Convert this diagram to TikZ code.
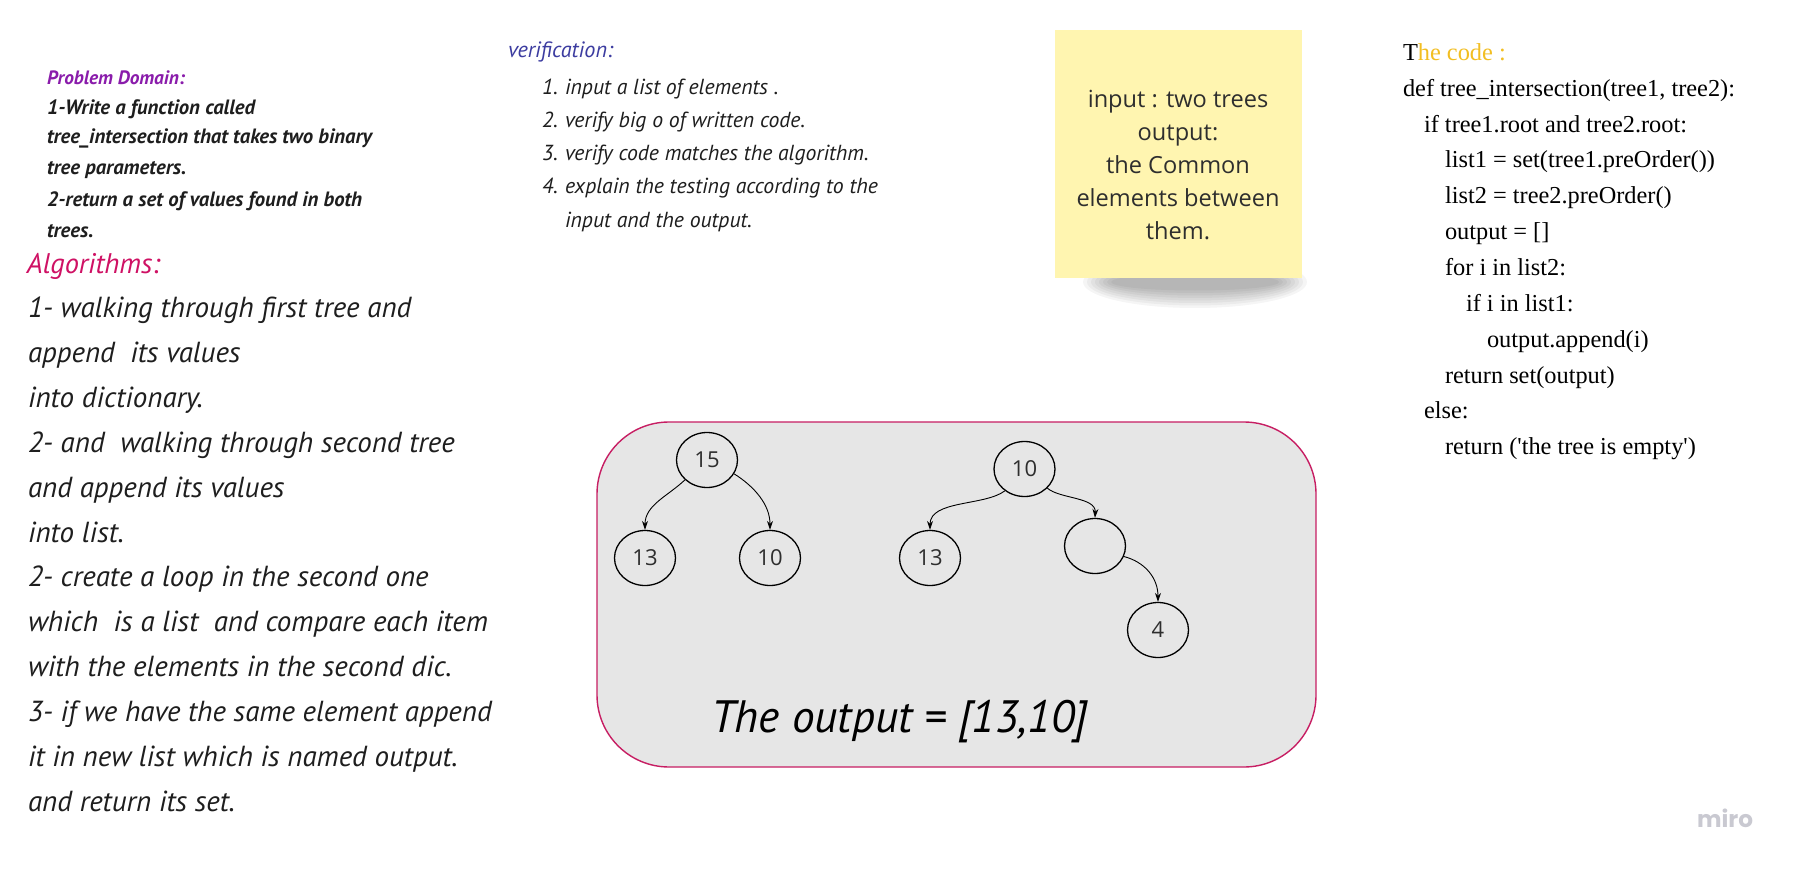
\documentclass[tikz,border=0pt]{standalone}
\usepackage{fontspec}
\usetikzlibrary{shapes.geometric,arrows.meta}
\newfontfamily\handf{PT Sans}
\newfontfamily\notef{Open Sans}
\newfontfamily\codef{Liberation Serif}
\newfontfamily\logof{Poppins}
\definecolor{pdpurple}{HTML}{8A1CAB}
\definecolor{algred}{HTML}{CF1164}
\definecolor{verblue}{HTML}{3C3CA0}
\definecolor{inkc}{HTML}{1E1E1E}
\definecolor{goldc}{HTML}{F2BE22}
\definecolor{boxfill}{HTML}{E6E6E6}
\definecolor{boxline}{HTML}{C71E63}
\definecolor{notey}{HTML}{FFF5B0}
\definecolor{notetxt}{HTML}{2E2E2E}
\definecolor{logoc}{HTML}{C9C9D1}
\newlength\mylen
\newcommand\fitfont[4]{\settowidth{\mylen}{#2\fontsize{10pt}{12pt}\selectfont #4}\pgfmathparse{10*#3/\mylen}\xdef#1{\pgfmathresult}}
\AtBeginDocument{%
\fitfont{\szPH}{\handf\bfseries\itshape}{138}{Problem Domain:}%
\fitfont{\szPD}{\handf\bfseries\itshape}{325}{tree\_intersection that takes two binary}%
\fitfont{\szAH}{\handf\itshape}{133}{Algorithms:}%
\fitfont{\szAlg}{\handf\itshape}{460}{which\ \ is a list\ \ and compare each item}%
\fitfont{\szVH}{\handf\itshape}{105}{verification:}%
\fitfont{\szVer}{\handf\itshape}{313}{explain the testing according to the}%
\fitfont{\szCode}{\codef}{332}{def tree\_intersection(tree1, tree2):}%
\fitfont{\szNote}{\notef}{203}{elements between}%
\fitfont{\szOut}{\handf\itshape}{377}{The output = [13,10]}%
\fitfont{\szLogo}{\logof\bfseries}{56}{miro}%
}
\begin{document}
\begin{tikzpicture}[x=1pt,y=-1pt,
  txt/.style={anchor=base west,inner sep=0pt,outer sep=0pt},
  ctxt/.style={anchor=base,inner sep=0pt,outer sep=0pt},
  pdhead/.style={txt,text=pdpurple,font=\handf\bfseries\itshape\fontsize{\szPH pt}{\szPH pt}\selectfont},
  pdbody/.style={txt,text=inkc,font=\handf\bfseries\itshape\fontsize{\szPD pt}{\szPD pt}\selectfont},
  alghead/.style={txt,text=algred,font=\handf\itshape\fontsize{\szAH pt}{\szAH pt}\selectfont},
  algbody/.style={txt,text=inkc,font=\handf\itshape\fontsize{\szAlg pt}{\szAlg pt}\selectfont},
  verhead/.style={txt,text=verblue,font=\handf\itshape\fontsize{\szVH pt}{\szVH pt}\selectfont},
  verbody/.style={txt,text=inkc,font=\handf\itshape\fontsize{\szVer pt}{\szVer pt}\selectfont},
  codest/.style={txt,text=black,font=\codef\fontsize{\szCode pt}{\szCode pt}\selectfont},
  notest/.style={ctxt,text=notetxt,font=\notef\fontsize{\szNote pt}{\szNote pt}\selectfont},
  tn/.style={ellipse,draw=black,line width=1.3pt,minimum width=61pt,minimum height=55pt,inner sep=0pt,
    text=notetxt,font=\notef\fontsize{22pt}{22pt}\selectfont},
  edge/.style={draw=black,line width=0.9pt,-{Stealth[length=9pt,width=6pt]}}
]
\useasboundingbox (0,0) rectangle (1796,869);
\fill[white] (0,0) rectangle (1796,869);

% Problem domain
\node[pdhead] (pdh) at (47,85) {Problem Domain:};
\node[pdbody] (pd1) at (47,115) {1-Write a function called};
\node[pdbody] (pd2) at (47,144) {tree\_intersection that takes two binary};
\node[pdbody] (pd3) at (47,175) {tree parameters.};
\node[pdbody] (pd4) at (47,207) {2-return a set of values found in both};
\node[pdbody] (pd5) at (47,237) {trees.};

% Algorithms
\node[alghead] (algh) at (27,273) {Algorithms:};
\node[algbody] (a1) at (28,317.5) {1- walking through first tree and};
\node[algbody] (a2) at (28,362.4) {append\ \ its values};
\node[algbody] (a3) at (28,407.3) {into dictionary.};
\node[algbody] (a4) at (28,452.2) {2- and\ \ walking through second tree};
\node[algbody] (a5) at (28,497.1) {and append its values};
\node[algbody] (a6) at (28,542) {into list.};
\node[algbody] (a7) at (28,586.9) {2- create a loop in the second one};
\node[algbody] (a8) at (28,631.8) {which\ \ is a list\ \ and compare each item};
\node[algbody] (a9) at (28,676.7) {with the elements in the second dic.};
\node[algbody] (a10) at (28,721.6) {3- if we have the same element append};
\node[algbody] (a11) at (28,766.5) {it in new list which is named output.};
\node[algbody] (a12) at (28,811.4) {and return its set.};

% Verification
\node[verhead] (vh) at (508,58) {verification:};
\node[verbody,anchor=base east] (v1n) at (558,95) {1.};
\node[verbody] (v1) at (565,95) {input a list of elements .};
\node[verbody,anchor=base east] (v2n) at (558,128) {2.};
\node[verbody] (v2) at (565,128) {verify big o of written code.};
\node[verbody,anchor=base east] (v3n) at (558,161) {3.};
\node[verbody] (v3) at (565,161) {verify code matches the algorithm.};
\node[verbody,anchor=base east] (v4n) at (558,194) {4.};
\node[verbody] (v4) at (565,194) {explain the testing according to the};
\node[verbody] (v5) at (565,227) {input and the output.};

% Sticky note
\foreach \i in {0,...,7} {
  \fill[black,opacity=0.04] (1195,282) ellipse ({112-4*\i} and {26-2.5*\i});
}
\node[fill=notey,minimum width=247pt,minimum height=248pt,inner sep=0pt] (note) at (1178.5,154) {};
\node[notest] (nt1) at (1178,108) {input : two trees};
\node[notest] (nt2) at (1178,141) {output:};
\node[notest] (nt3) at (1178,174) {the Common};
\node[notest] (nt4) at (1178,207) {elements between};
\node[notest] (nt5) at (1178,240) {them.};

% Code
\node[codest] (c0) at (1403,61) {T\textcolor{goldc}{he code :}};
\node[codest] (c1) at (1403,97) {def tree\_intersection(tree1, tree2):};
\node[codest] (c2) at (1424,133) {if tree1.root and tree2.root:};
\node[codest] (c3) at (1445,168) {list1 = set(tree1.preOrder())};
\node[codest] (c4) at (1445,204) {list2 = tree2.preOrder()};
\node[codest] (c5) at (1445,240) {output = []};
\node[codest] (c6) at (1445,275) {for i in list2:};
\node[codest] (c7) at (1466,311) {if i in list1:};
\node[codest] (c8) at (1487,347) {output.append(i)};
\node[codest] (c9) at (1445,383) {return set(output)};
\node[codest] (c10) at (1424,418) {else:};
\node[codest] (c11) at (1445,454) {return ('the tree is empty')};

% Trees box
\node[draw=boxline,fill=boxfill,line width=1.4pt,rounded corners=72pt,minimum width=719pt,minimum height=345pt,inner sep=0pt] (box) at (956.5,594.5) {};
\node[tn] (n15) at (707,460) {15};
\node[tn] (n13a) at (645,558) {13};
\node[tn] (n10a) at (770,558) {10};
\node[tn] (n10r) at (1024.5,469) {10};
\node[tn] (n13r) at (930,558) {13};
\node[tn] (ne) at (1095,546) {};
\node[tn] (n4) at (1158,630) {4};
\draw[edge] (n15.222) .. controls (668,496) and (645,505) .. (n13a.north);
\draw[edge] (n15.333) .. controls (755,487) and (770,505) .. (n10a.north);
\draw[edge] (n10r.228) .. controls (985,506) and (930,500) .. (n13r.north);
\draw[edge] (n10r.320) .. controls (1060,499) and (1096,497) .. (ne.north);
\draw[edge] (ne.340) .. controls (1145,562) and (1158,578) .. (n4.north);
\node[txt,text=black,font=\handf\itshape\fontsize{\szOut pt}{\szOut pt}\selectfont] (outp) at (711,732) {The output = [13,10]};

% logo
\node[ctxt,text=logoc,font=\logof\bfseries\fontsize{\szLogo pt}{\szLogo pt}\selectfont] (logo) at (1725,827) {miro};
\end{tikzpicture}
\end{document}
